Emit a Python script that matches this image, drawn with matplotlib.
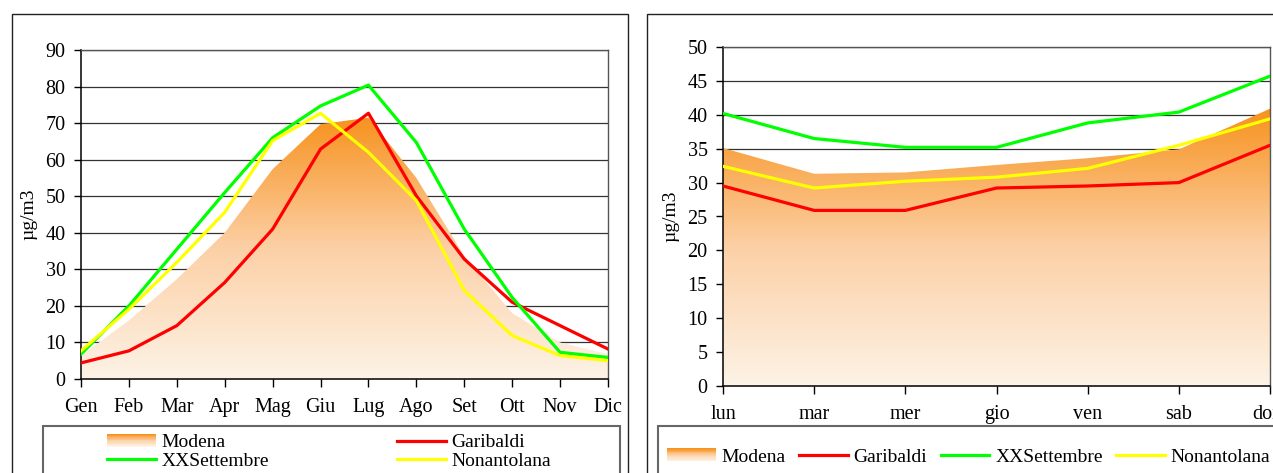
import numpy as np
import matplotlib
matplotlib.use("Agg")
import matplotlib.pyplot as plt
from matplotlib.colors import LinearSegmentedColormap
from matplotlib.patches import Rectangle
from matplotlib.lines import Line2D
from matplotlib.legend_handler import HandlerBase

plt.rcParams['font.family'] = ['Liberation Serif', 'DejaVu Serif']

# dati mensili
mesi = ["Gen", "Feb", "Mar", "Apr", "Mag", "Giu", "Lug", "Ago", "Set", "Ott", "Nov", "Dic"]
modena_m = [6.4, 16, 27.3, 40, 57.4, 69.7, 71.5, 55, 33.7, 18, 10, 6.8]
garibaldi_m = [4.4, 7.7, 14.6, 26.4, 41, 62.9, 72.7, 50.1, 32.8, 21, 14.6, 8.2]
xxsett_m = [6.8, 20, 35.5, 51, 66, 74.7, 80.4, 64.7, 41, 22.3, 7.3, 5.9]
nonant_m = [7.7, 19.1, 31.9, 45.6, 65.2, 72.7, 62, 48.8, 24.2, 11.9, 6.4, 5.0]

# dati settimanali
giorni = ["lun", "mar", "mer", "gio", "ven", "sab", "dom"]
modena_g = [35.1, 31.3, 31.5, 32.6, 33.6, 34.9, 40.9]
garibaldi_g = [29.5, 25.9, 25.9, 29.2, 29.5, 30.0, 35.5]
xxsett_g = [40.2, 36.5, 35.2, 35.2, 38.8, 40.4, 45.7]
nonant_g = [32.4, 29.2, 30.2, 30.8, 32.1, 35.5, 39.4]

W, H = 1273, 473
cmap = LinearSegmentedColormap.from_list("mod", ["#fdf3e6", "#fcd0a6", "#f7921e"])


class GradHandler(HandlerBase):
    def create_artists(self, legend, orig_handle, xdescent, ydescent, width, height, fontsize, trans):
        n = 16
        hh = height * 1.0
        y0 = -ydescent - (hh - height) / 2
        arts = []
        for i in range(n):
            r = Rectangle((-xdescent, y0 + i * hh / n), width, hh / n + 0.2,
                          facecolor=cmap(i / (n - 1)), edgecolor='none', transform=trans)
            arts.append(r)
        return arts


def fx(x):
    return x / W


def fy(y):
    return 1 - y / H


def frame(fig, x0, y0, x1, y1, color, lw):
    fig.patches.append(Rectangle((fx(x0), fy(y1)), fx(x1) - fx(x0), fy(y0) - fy(y1),
                                 transform=fig.transFigure, fill=False,
                                 edgecolor=color, linewidth=lw, clip_on=False))


def draw(ax, labels, mod, gar, xx, non, ymax, ystep):
    x = np.arange(len(labels))
    top = max(mod)
    poly = ax.fill_between(x, 0, mod, facecolor='none', edgecolor='none', zorder=1)
    grad = np.linspace(0, 1, 256).reshape(-1, 1)
    im = ax.imshow(grad, cmap=cmap, origin='lower', aspect='auto',
                   extent=[x[0], x[-1], 0, top], zorder=1)
    im.set_clip_path(poly.get_paths()[0], transform=ax.transData)
    ax.plot(x, gar, color='#ff0000', lw=2.3, zorder=3)
    ax.plot(x, xx, color='#00ff00', lw=2.3, zorder=3)
    ax.plot(x, non, color='#ffff00', lw=2.3, zorder=3)
    ax.set_xlim(x[0], x[-1])
    ax.set_ylim(0, ymax)
    ax.set_xticks(x)
    ax.set_xticklabels(labels)
    ax.set_yticks(np.arange(0, ymax + 1, ystep))
    ax.yaxis.grid(True, color='#333333', lw=0.9, zorder=0)
    ax.set_axisbelow(True)
    ax.tick_params(axis='x', length=6, width=1, pad=8, labelsize=14.5, direction='out')
    ax.tick_params(axis='y', length=5, width=1, pad=6, labelsize=14.5, direction='out')
    for s in ['left', 'bottom']:
        ax.spines[s].set_color('black')
        ax.spines[s].set_linewidth(1.1)
    for s in ['top', 'right']:
        ax.spines[s].set_color('#555555')
        ax.spines[s].set_linewidth(1.0)
    ax.set_ylabel("µg/m3", fontsize=14, labelpad=6)


fig = plt.figure(figsize=(W / 100, H / 100), dpi=100)
ax1 = fig.add_axes([fx(81), fy(379), fx(608) - fx(81), fy(50) - fy(379)])
ax2 = fig.add_axes([fx(723), fy(386), fx(1270) - fx(723), fy(47) - fy(386)])

draw(ax1, mesi, modena_m, garibaldi_m, xxsett_m, nonant_m, 90, 10)
draw(ax2, giorni, modena_g, garibaldi_g, xxsett_g, nonant_g, 50, 5)

frame(fig, 12, 14, 628, 490, '#222222', 1.0)
frame(fig, 647, 14, 1290, 490, '#222222', 1.0)
frame(fig, 43, 426, 620, 490, '#666666', 1.5)
frame(fig, 658, 426, 1290, 490, '#666666', 1.5)

names = ["Modena", "Garibaldi", "XXSettembre", "Nonantolana"]
handles = [Rectangle((0, 0), 1, 1),
           Line2D([], [], color='#ff0000', lw=2.3),
           Line2D([], [], color='#00ff00', lw=2.3),
           Line2D([], [], color='#ffff00', lw=2.3)]
hmap = {handles[0]: GradHandler()}

# legenda sinistra: 2 colonne, riempite per riga
order = [0, 2, 1, 3]
fig.legend([handles[i] for i in order], [names[i] for i in order], handler_map=hmap,
           ncol=2, frameon=False, fontsize=14,
           loc='center left', bbox_to_anchor=(fx(107), fy(452)),
           handlelength=2.5, handleheight=0.65, handletextpad=0.3, columnspacing=6.6,
           labelspacing=0.08, borderaxespad=0, borderpad=0)
fig.legend(handles, names, handler_map=hmap, ncol=4, frameon=False, fontsize=14,
           loc='center left', bbox_to_anchor=(fx(667), fy(457)),
           handlelength=2.5, handleheight=0.65, handletextpad=0.3, columnspacing=0.7,
           borderaxespad=0, borderpad=0)

fig.savefig("out.png", dpi=100)
